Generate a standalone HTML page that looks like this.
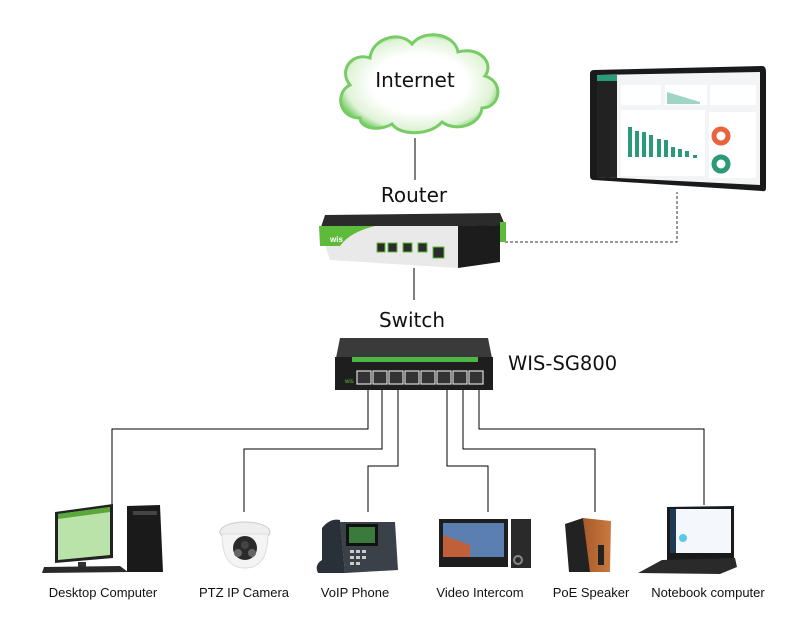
<!DOCTYPE html>
<html><head><meta charset="utf-8"><style>
html,body{margin:0;padding:0;background:#fff;}
svg{display:block;}
.lbl{font-family:"Liberation Sans",Arial,sans-serif;font-size:13px;fill:#111;text-anchor:middle;}
.big{font-family:"DejaVu Sans","Liberation Sans",sans-serif;font-size:20px;fill:#111;text-anchor:middle;}
</style></head><body>
<svg width="794" height="623" viewBox="0 0 794 623" xmlns="http://www.w3.org/2000/svg">
<defs>
<radialGradient id="cg" cx="50%" cy="50%" r="55%"><stop offset="0.55" stop-color="#fff"/><stop offset="0.85" stop-color="#dff3d6"/><stop offset="1" stop-color="#6cc95a"/></radialGradient>
<linearGradient id="wood" x1="0" x2="1"><stop offset="0" stop-color="#a85a2a"/><stop offset="1" stop-color="#c97a40"/></linearGradient>
</defs>
<!-- cloud -->
<path d="M360,118 C338,118 335,92 350,85 C338,70 352,52 370,58 C372,38 400,30 412,44 C425,28 455,34 458,52 C478,46 495,62 485,76 C505,82 500,108 482,108 C480,126 455,132 442,122 C430,136 400,136 392,124 C378,132 360,128 360,118 Z" fill="url(#cg)" stroke="#78cc66" stroke-width="3"/>
<text x="415" y="87" class="big">Internet</text>
<line x1="415" y1="138" x2="415" y2="180" stroke="#000" stroke-width="1"/>
<text x="414" y="202" class="big">Router</text>
<!-- tablet -->
<path d="M594,70 L762,66 Q766,66 766,72 L766,188 Q766,192 762,191 L594,180 Q590,180 590,176 L590,74 Q590,70 594,70 Z" fill="#1a1a1a"/>
<path d="M597,75 L760,72 L760,185 L597,177 Z" fill="#f3f4f6"/>
<path d="M597,75 L617,75 L617,178 L597,177 Z" fill="#222"/>
<rect x="597" y="75" width="20" height="6" fill="#2a9a78"/>
<rect x="621" y="85" width="40" height="20" fill="#fff"/><rect x="665" y="85" width="42" height="20" fill="#fff"/><rect x="710" y="85" width="46" height="20" fill="#fff"/>
<rect x="621" y="110" width="84" height="66" fill="#fff"/><rect x="709" y="112" width="47" height="66" fill="#fff"/>
<path d="M667,92 L700,102 L700,104 L667,104 Z" fill="#9fd6c3"/>
<g fill="#2a9a78"><rect x="628" y="127" width="4" height="30"/><rect x="635" y="131" width="4" height="26"/><rect x="642" y="132" width="4" height="25"/><rect x="649" y="135" width="4" height="22"/><rect x="657" y="139" width="4" height="18"/><rect x="664" y="140" width="4" height="17"/><rect x="671" y="147" width="4" height="10"/><rect x="678" y="149" width="4" height="8"/><rect x="685" y="151" width="4" height="6"/><rect x="693" y="155" width="4" height="3"/></g>
<circle cx="721" cy="136" r="7" fill="none" stroke="#e8643c" stroke-width="5"/>
<circle cx="721" cy="164" r="7" fill="none" stroke="#2a9a78" stroke-width="5"/>
<!-- dashed -->
<path d="M505,242 L677,242 L677,192" fill="none" stroke="#333" stroke-width="1" stroke-dasharray="3,2"/>
<!-- router -->
<path d="M325,215 L500,213 L505,225 L320,230 Z" fill="#2b2b2b"/>
<path d="M319,226 L458,226 L458,268 L330,260 Z" fill="#e9e9e9"/>
<path d="M319,226 L375,226 Q350,232 340,246 L320,246 Z" fill="#5dba3a"/>
<text x="330" y="242" font-family="Liberation Sans,sans-serif" font-size="8" font-weight="bold" fill="#fff">wis</text>
<path d="M458,226 L500,225 L500,262 L458,268 Z" fill="#1c1c1c"/>
<rect x="500" y="222" width="6" height="20" fill="#5dba3a"/>
<g fill="#2c2c2c" stroke="#5dba3a" stroke-width="1"><rect x="377" y="243" width="8" height="9"/><rect x="388" y="243" width="9" height="9"/><rect x="403" y="243" width="9" height="9"/><rect x="418" y="243" width="9" height="9"/><rect x="433" y="247" width="11" height="11"/></g>
<line x1="414" y1="268" x2="414" y2="300" stroke="#000"/>
<text x="412" y="327" class="big">Switch</text>
<!-- switch -->
<path d="M340,338 L488,338 L492,358 L336,358 Z" fill="#3a3a3a"/>
<rect x="335" y="357" width="158" height="33" fill="#1e1e1e"/>
<rect x="352" y="357" width="126" height="5" fill="#4cb644"/>
<g fill="#333" stroke="#ddd" stroke-width="1.2"><rect x="357" y="371" width="14" height="13"/><rect x="373" y="371" width="14" height="13"/><rect x="389" y="371" width="14" height="13"/><rect x="405" y="371" width="14" height="13"/><rect x="421" y="371" width="14" height="13"/><rect x="437" y="371" width="14" height="13"/><rect x="453" y="371" width="14" height="13"/><rect x="469" y="371" width="14" height="13"/></g>
<text x="345" y="383" font-family="Liberation Sans,sans-serif" font-size="6" fill="#5dba3a">wis</text>
<text x="508" y="370" font-family="DejaVu Sans,Liberation Sans,sans-serif" font-size="19.5" fill="#111">WIS-SG800</text>
<!-- connectors -->
<g fill="none" stroke="#000" stroke-width="1">
<path d="M368,390 L368,429 L112,429 L112,505"/>
<path d="M382,390 L382,449 L244,449 L244,512"/>
<path d="M398,390 L398,466 L368,466 L368,512"/>
<path d="M447,390 L447,466 L488,466 L488,512"/>
<path d="M463,390 L463,449 L595,449 L595,512"/>
<path d="M479,390 L479,429 L704,429 L704,505"/>
</g>
<!-- desktop -->
<path d="M55,512 L113,504 L113,558 L55,563 Z" fill="#222"/>
<path d="M58,514 L110,507 L110,555 L58,560 Z" fill="#b9e3a8"/>
<path d="M58,514 L110,507 L110,512 L58,519 Z" fill="#5aa83a"/>
<rect x="78" y="562" width="8" height="5" fill="#333"/>
<path d="M44,567 L120,566 L128,572 L42,573 Z" fill="#2a2a2a"/>
<path d="M127,506 L160,505 L163,572 L127,572 Z" fill="#1a1a1a"/>
<rect x="133" y="511" width="24" height="4" fill="#444"/>
<!-- camera -->
<ellipse cx="245" cy="532" rx="25" ry="10" fill="#eee" stroke="#ccc"/>
<path d="M222,534 Q222,568 245,568 Q268,568 268,534 Z" fill="#f4f4f4" stroke="#ddd"/>
<circle cx="245" cy="548" r="12" fill="#2a2a2a"/><circle cx="238" cy="553" r="4" fill="#666"/><circle cx="252" cy="553" r="4" fill="#666"/><circle cx="245" cy="545" r="4" fill="#444"/>
<!-- phone -->
<path d="M322,528 Q330,518 340,520 L345,573 L318,573 Q314,565 322,560 Z" fill="#2a3038"/>
<path d="M340,522 L395,522 L398,570 L345,573 Z" fill="#3b4148"/>
<rect x="346" y="524" width="32" height="22" fill="#111"/><rect x="349" y="527" width="26" height="16" fill="#3a7a3a"/>
<g fill="#ccc"><rect x="350" y="550" width="4" height="3"/><rect x="356" y="550" width="4" height="3"/><rect x="362" y="550" width="4" height="3"/><rect x="350" y="556" width="4" height="3"/><rect x="356" y="556" width="4" height="3"/><rect x="362" y="556" width="4" height="3"/><rect x="350" y="562" width="4" height="3"/><rect x="356" y="562" width="4" height="3"/></g>
<!-- intercom -->
<rect x="439" y="519" width="69" height="48" fill="#1e1e1e"/>
<rect x="443" y="523" width="61" height="34" fill="#5a7fb0"/>
<path d="M443,535 L470,545 L470,557 L443,557 Z" fill="#c0603a"/>
<rect x="511" y="519" width="20" height="49" fill="#2a2a2a"/>
<circle cx="518" cy="560" r="4" fill="none" stroke="#888" stroke-width="2"/>
<!-- speaker -->
<path d="M583,518 L611,521 L610,572 L589,572 Z" fill="url(#wood)"/>
<path d="M565,524 L583,518 L590,572 L569,572 Z" fill="#222"/>
<rect x="598" y="545" width="6" height="20" fill="#222"/>
<!-- laptop -->
<path d="M667,507 L734,506 L734,563 L667,563 Z" fill="#1a1a1a"/>
<rect x="670" y="509" width="61" height="44" fill="#f4f8fc"/>
<rect x="670" y="509" width="6" height="44" fill="#1f3a55"/>
<circle cx="683" cy="538" r="4" fill="#5ac8e8"/>
<path d="M662,560 L735,558 L737,567 L720,574 L638,573 Z" fill="#2a2a2a"/>
<!-- labels -->
<text x="103" y="597" class="lbl">Desktop Computer</text>
<text x="244" y="597" class="lbl">PTZ IP Camera</text>
<text x="355" y="597" class="lbl">VoIP Phone</text>
<text x="480" y="597" class="lbl">Video Intercom</text>
<text x="591" y="597" class="lbl">PoE Speaker</text>
<text x="708" y="597" class="lbl">Notebook computer</text>
</svg>
</body></html>
